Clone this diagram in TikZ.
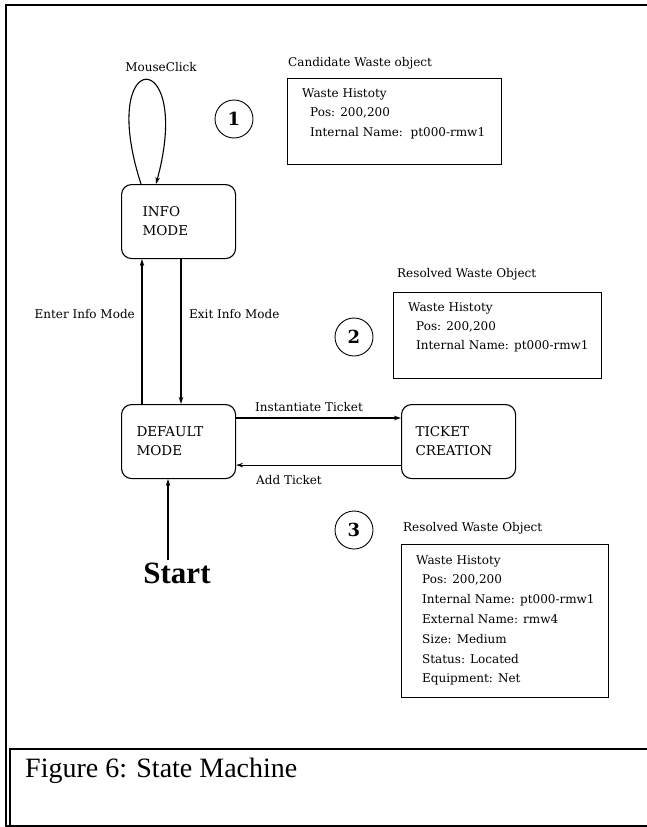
\documentclass[tikz,border=0pt]{standalone}
\usepackage{fontspec}
\setmainfont{DejaVu Serif}
\newfontfamily\capfont{Liberation Serif}
\usetikzlibrary{arrows.meta}
\begin{document}
\begin{tikzpicture}[x=1pt,y=-1pt,
  statebox/.style={draw, line width=1.1pt, rounded corners=10pt, minimum height=74pt,
    anchor=north west, align=left, font=\fontsize{13.5}{19}\selectfont},
  objbox/.style={draw, line width=1.1pt, anchor=north west, inner sep=0pt},
  objtext/.style={anchor=base west, inner sep=0pt, font=\fontsize{12}{14}\selectfont},
  lbl/.style={inner sep=0pt, font=\fontsize{12}{14}\selectfont},
  numcircle/.style={draw, circle, line width=0.9pt, minimum size=38pt, inner sep=0pt,
    font=\fontsize{18}{18}\selectfont\bfseries},
  arr/.style={line width=1.1pt, -{Stealth[length=7pt,width=4.5pt]}},
  rulefill/.style={fill=black}
]
\path[use as bounding box] (0,0) rectangle (647,827);

% frame (filled bars)
\fill[rulefill] (5,3.6) rectangle (647,6.4);
\fill[rulefill] (4.6,3.6) rectangle (7.4,827);
\fill[rulefill] (9,748) rectangle (647,750);
\fill[rulefill] (9,748) rectangle (11,827);
\fill[rulefill] (5,825) rectangle (647,827);

% states
\node[statebox, inner xsep=21pt, text width=72pt] (info) at (121,184) {INFO\\MODE};
\node[statebox, inner xsep=15pt, text width=84pt] (default) at (121,404) {DEFAULT\\MODE};
\node[statebox, inner xsep=14pt, text width=86pt] (ticket) at (401,404) {TICKET\\CREATION};

% start
\node[inner sep=2pt, anchor=base, font=\capfont\fontsize{31}{31}\selectfont\bfseries] (start) at (177,583) {Start};

% numbered circles
\node[numcircle] (c1) at (234,119) {1};
\node[numcircle] (c2) at (354,337) {2};
\node[numcircle] (c3) at (354,530) {3};

% transitions
\draw[arr] ([xshift=20pt]info.north west) .. controls (96,45) and (194,45) .. ([xshift=35pt]info.north west);
\node[lbl, anchor=base] (lmouse) at (161,71.5) {MouseClick};

\draw[arr] ([xshift=21pt]default.north west) -- ([xshift=21pt]info.south west);
\node[lbl, anchor=base east] (lenter) at (135,318) {Enter Info Mode};
\draw[arr] ([xshift=60pt]info.south west) -- ([xshift=60pt]default.north west);
\node[lbl, anchor=base west] (lexit) at (189,318) {Exit Info Mode};

\draw[arr] ([yshift=-14pt]default.north east) -- ([yshift=-14pt]ticket.north west);
\node[lbl, anchor=base west] (linst) at (255,411) {Instantiate Ticket};
\draw[arr] ([yshift=14pt]ticket.south west) -- ([yshift=14pt]default.south east);
\node[lbl, anchor=base west] (ladd) at (256,484) {Add Ticket};

\draw[arr] ([xshift=-9pt]start.north) -- ([xshift=47pt]default.south west);

% object 1
\node[lbl, anchor=base west] (t1) at (288,66.5) {Candidate Waste object};
\node[objbox, minimum width=214pt, minimum height=86pt] (obj1) at (287,78) {};
\node[objtext] (o1) at (302,97) {\fontsize{12}{19.5}\selectfont
  \begin{tabular}[t]{@{}l@{}}Waste Histoty\\
  \hspace*{8pt}Pos: 200,200\\
  \hspace*{8pt}Internal Name:\ \ pt000-rmw1\end{tabular}};

% object 2
\node[lbl, anchor=base west] (t2) at (397,277) {Resolved Waste Object};
\node[objbox, minimum width=208pt, minimum height=86pt] (obj2) at (393,292) {};
\node[objtext] (o2) at (408,311.5) {\fontsize{12}{18.75}\selectfont
  \begin{tabular}[t]{@{}l@{}}Waste Histoty\\
  \hspace*{8pt}Pos: 200,200\\
  \hspace*{8pt}Internal Name: pt000-rmw1\end{tabular}};

% object 3
\node[lbl, anchor=base west] (t3) at (403,531) {Resolved Waste Object};
\node[objbox, minimum width=207pt, minimum height=153pt] (obj3) at (401,544) {};
\node[objtext] (o3) at (416,564) {\fontsize{12}{19.8}\selectfont
  \begin{tabular}[t]{@{}l@{}}Waste Histoty\\
  \hspace*{6pt}Pos: 200,200\\
  \hspace*{6pt}Internal Name: pt000-rmw1\\
  \hspace*{6pt}External Name: rmw4\\
  \hspace*{6pt}Size: Medium\\
  \hspace*{6pt}Status: Located\\
  \hspace*{6pt}Equipment: Net\end{tabular}};

% caption
\node[anchor=base west, inner sep=0pt, font=\capfont\fontsize{28}{28}\selectfont] (cap) at (25,777) {Figure 6: State Machine};
\end{tikzpicture}
\end{document}
